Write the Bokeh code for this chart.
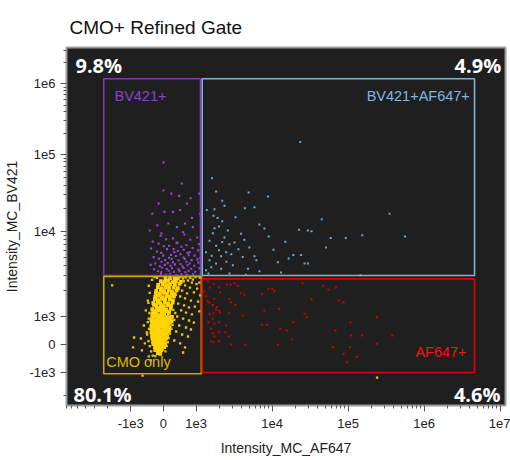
import numpy as np
from bokeh.plotting import figure
from bokeh.models import FixedTicker, CustomJSTickFormatter, Label
from bokeh.embed import file_html
from bokeh.resources import INLINE

# ---------------- data (raw intensities) ----------------
title_text = "CMO+ Refined Gate"
x_tick_vals = [-1e3, 0, 1e3, 1e4, 1e5, 1e6, 1e7]
x_tick_labels = ["-1e3", "0", "1e3", "1e4", "1e5", "1e6", "1e7"]
y_tick_vals = [-1e3, 0, 1e3, 1e4, 1e5, 1e6]
y_tick_labels = ["-1e3", "0", "1e3", "1e4", "1e5", "1e6"]

gate_names = ["BV421+", "BV421+AF647+", "CMO only", "AF647+"]
gate_x0 = [-2.27e3, 1.2e3, -2.27e3, 1.2e3]
gate_x1 = [1.14e3, 4.6e6, 1.17e3, 4.6e6]
gate_y0 = [3.04e3, 3.04e3, -1.04e3, -1.0e3]
gate_y1 = [1.18e6, 1.18e6, 2.95e3, 2.77e3]
gate_pct = ["9.8%", "4.9%", "80.1%", "4.6%"]

# CMO only: dense core
yellow_core_x = [60, 200, 340, 440,
                 -80, 40, 140, 280, 380, 530,
                 -160, -20, 100, 200, 350, 490,
                 -170, -50, 70, 170, 310, 440,
                 -220, -80, 20, 160, 260, 400,
                 -230, -110, 10, 110, 250, 350,
                 -250, -140, -20, 100, 200, 320,
                 -260, -160, -50, 50, 190, 290,
                 -310, -170, -100, 40, 140, 280,
                 -290, -220, -80, 10, 130, 230,
                 -340, -200, -130, -20, 80, 220,
                 -320, -250, -140, -40, 70, 170,
                 -340, -230, -160, -50, 20, 160,
                 -350, -280, -170, -100, 10, 110, 200, 260,
                 -370, -260, -190, -80, -10, 100, 180, 250,
                 -350, -280, -170, -130, -20, 50, 130, 200,
                 -370, -290, -220, -110, -70, 40, 110, 190,
                 -350, -310, -200, -160, -50, 20, 100, 170,
                 -370, -290, -250, -140, -100, 10, 80, 150,
                 -350, -310, -230, -190, -80, -40, 30, 110,
                 -340, -260, -220, -110, -70, 0, 80,
                 -320, -280, -170, -130, -20, 40,
                 -310, -230, -160, -80, -10, 50,
                 -260, -220, -110, -40, 20,
                 -250, -140, -70,
                 -170, -100]
yellow_core_y = [2780, 2830, 2760, 2820,
                 2600, 2550, 2620, 2540, 2610, 2560,
                 2360, 2410, 2340, 2400, 2350, 2420,
                 2220, 2160, 2210, 2170, 2200, 2150,
                 2000, 2050, 1990, 2040, 1980, 2030,
                 1890, 1840, 1900, 1850, 1880, 1830,
                 1700, 1750, 1690, 1740, 1710, 1730,
                 1600, 1560, 1610, 1570, 1590, 1550,
                 1450, 1480, 1440, 1470, 1430, 1460,
                 1370, 1330, 1360, 1320, 1360, 1340,
                 1220, 1260, 1230, 1250, 1210, 1240,
                 1160, 1130, 1170, 1140, 1160, 1130,
                 1050, 1080, 1040, 1070, 1050, 1080,
                 940, 985, 950, 975, 945, 980, 955, 990,
                 870, 840, 865, 850, 875, 845, 880, 835,
                 735, 765, 740, 770, 745, 760, 730, 775,
                 655, 625, 650, 630, 660, 635, 645, 620,
                 520, 550, 525, 545, 515, 540, 555, 510,
                 440, 415, 435, 420, 445, 425, 410, 450,
                 305, 335, 315, 330, 310, 325, 340, 300,
                 225, 200, 220, 205, 230, 195, 215,
                 95, 120, 100, 115, 90, 125,
                 10, -15, 5, -10, 20, -5,
                 -95, -120, -100, -115, -90,
                 -200, -225, -210,
                 -310, -335]
# CMO only: looser cloud around the core
yellow_x = [600, 750, 900, 1100, 660, 810, 1030, 570, 720, 930, 1130, 510, 660, 840, 1060, 450, 630,
            780, 960, 540, 690, 870, 1100, 420, 600, 780, 930, 480, 690, 840, 390, 570, 750, 330,
            510, 660, 600, -480, -540, -450, -600, -510, -690, -570, -900, -930, -660, -450, -390,
            -1760, -640, 2.4e5,
            300, 360, 250, 330, 200, 280, 150, 240, 120, 200, 90, 160, 60, 130, 30, 100, -20, 60,
            -450, -420, -460, -430, -480, -440, -500, -460, -420, -380, -330, -250,
            -280, -200, 520, 680, 820, 980, 1120, -350, 620, 870, 1010]
yellow_y = [2800, 2650, 2720, 2510, 2320, 2190, 2130, 2020, 1870, 1920, 1770, 1720, 1630, 1540,
            1500, 1420, 1350, 1280, 1310, 1180, 1110, 1060, 1150, 1000, 928, 857, 785, 678, 607,
            536, 464, 357, 286, 143, 36, -107, -286, 1540, 1180, 928, 678, 428, 214, 36, 250, -107,
            -214, -428, -571, 2320, -1100, -1170,
            1200, 1100, 950, 880, 780, 700, 620, 560, 480, 390, 300, 230, 150, 80, -30, -60, -180, -250,
            2300, 1900, 1450, 1100, 800, 560, 350, 120, -60, -250, -400, -420,
            2900, 2850, 2900, 2880, 2850, 2900, 2870, 2700, 2600, 2500, 2400]

# BV421+
purple_x = [-90, 290, 640, 1030,
            -330, 80, 430, 820,
            -150, 170, 400, 700, 1100,
            -380, 10, 310, 550, 890,
            -200, 110, 440, 620, 800, 1060,
            -70, 230, 330, 520, 740, 950,
            -300, -10, 170, 380, 610, 770, 1130,
            -140, 50, 250, 460, 650, 860, 1040,
            -250, -60, 130, 290, 520, 700, 800, 1070,
            -390, -110, 40, 220, 350, 580, 740, 940,
            -290, -40, 100, 260, 460, 620, 850, 1100,
            -170, -70, 160, 320, 490, 670, 770, 970,
            -80, 70, 200, 400, 550, 710, 910,
            560, 0, 240, 480, 830, 1100, -150, 720, -340, 30, 290, 510, 870, 1130, -420, -190,
            150, 410, 660, 900, 0, -60, 600]
purple_y = [8.9e3, 8.3e3, 9.2e3, 8.5e3,
            7.6e3, 8.1e3, 7.4e3, 8.0e3,
            7.2e3, 6.8e3, 7.3e3, 6.9e3, 7.1e3,
            6.3e3, 6.7e3, 6.2e3, 6.6e3, 6.4e3,
            5.8e3, 6.2e3, 5.9e3, 6.1e3, 5.7e3, 6.0e3,
            5.6e3, 5.3e3, 5.7e3, 5.4e3, 5.6e3, 5.2e3,
            5.0e3, 5.2e3, 4.9e3, 5.15e3, 4.95e3, 5.25e3, 4.9e3,
            4.8e3, 4.6e3, 4.75e3, 4.55e3, 4.8e3, 4.6e3, 4.7e3,
            4.2e3, 4.4e3, 4.25e3, 4.35e3, 4.15e3, 4.4e3, 4.2e3, 4.3e3,
            4.05e3, 3.9e3, 4.05e3, 3.95e3, 4.1e3, 3.9e3, 4.0e3, 3.95e3,
            3.6e3, 3.75e3, 3.62e3, 3.7e3, 3.6e3, 3.72e3, 3.64e3, 3.7e3,
            3.4e3, 3.3e3, 3.45e3, 3.35e3, 3.42e3, 3.32e3, 3.44e3, 3.36e3,
            3.15e3, 3.1e3, 3.18e3, 3.08e3, 3.14e3, 3.1e3, 3.16e3,
            4.2e4, 3.4e4, 3.1e4, 2.9e4, 2.7e4, 3.1e4, 2.3e4, 2.3e4, 1.7e4, 1.8e4, 1.8e4, 1.9e4,
            1.5e4, 1.7e4, 1.03e4, 1.2e4, 1.27e4, 1.14e4, 1.27e4, 1.14e4, 7.9e4, 9.5e3, 9.8e3]

blue_x = [2.34e4, 1.62e3, 1.83e3, 4.9e3, 8.8e3, 2.2e3, 2.36e3, 1.38e3, 1.74e3, 4.37e3, 5.85e3,
          3.29e3, 1.69e3, 1.91e3, 2.2e3, 4.5e4, 6.8e3, 7.9e3, 1.74e3, 2.0e3, 2.61e3, 2.25e4,
          2.95e4, 3.3e4, 5.9e4, 3.9e3, 4.3e3, 3.19e3, 9.0e3, 1.49e4, 5.0e3, 1.04e4, 5.1e4, 1.5e3,
          1.66e3, 2.36e3, 2.74e3, 1.83e3, 2.0e3, 1.35e3, 2.48e3, 2.13e3, 4.1e3, 5.85e3, 6.2e3,
          1.9e4, 2.4e4, 1.65e4, 1.19e4, 2.67e4, 2.95e4, 1.5e3, 1.83e3, 3.04e3, 1.58e3, 2.13e3,
          4.8e3, 6.8e3, 1.31e4, 1.35e3, 2.74e3, 4.5e3, 3.5e5, 9.3e4, 1.53e5, 5.6e5, 1.45e5,
          1.45e3, 2.5e3, 3.6e3, 2.9e3, 1.6e3, 2.2e3]
blue_y = [1.5e5, 4.9e4, 3.3e4, 3.2e4, 2.85e4, 2.5e4, 2.16e4, 1.9e4, 1.95e4, 2.0e4, 2.07e4, 1.53e4,
          1.6e4, 1.5e4, 1.36e4, 1.44e4, 1.23e4, 1.09e4, 1.1e4, 1.16e4, 1.03e4, 1.05e4, 1.03e4,
          1.01e4, 8.4e3, 9.4e3, 8.0e3, 7.4e3, 8.7e3, 7.55e3, 6.5e3, 6.1e3, 6.5e3, 7.8e3, 9.5e3,
          8.5e3, 7.1e3, 6.8e3, 6.0e3, 5.7e3, 5.7e3, 5.1e3, 5.0e3, 5.1e3, 4.6e3, 5.3e3, 5.3e3,
          4.8e3, 4.35e3, 4.2e3, 4.2e3, 4.6e3, 4.2e3, 4.0e3, 3.8e3, 3.65e3, 3.65e3, 3.4e3, 3.3e3,
          3.5e3, 3.2e3, 3.1e3, 1.7e4, 8.4e3, 9.0e3, 8.7e3, 3.05e3, 3.2e3, 4.4e3, 6.2e3, 5.4e3,
          5.2e3, 7.5e3]

red_x = [1.45e3, 1.69e3, 1.5e3, 2.0e3, 2.07e3, 2.53e3, 2.83e3, 3.19e3, 3.57e3, 3.9e3, 4.3e3,
         7.4e3, 9.0e3, 1.0e4, 1.07e4, 2.5e4, 4.7e4, 5.5e4, 6.9e4, 1.26e3, 1.35e3, 1.42e3, 1.5e3,
         1.74e3, 2.74e3, 2.89e3, 3.29e3, 3.3e4, 7.5e4, 8.7e4, 1.87e3, 1.66e3, 2.0e3, 1.83e3,
         7.9e3, 1.23e4, 1.5e3, 1.69e3, 2.07e3, 2.69e3, 4.1e3, 1.66e3, 1.74e3, 2.0e3, 1.45e3,
         2.48e3, 7.4e3, 8.5e3, 1.9e4, 2.67e4, 2.86e4, 1.58e3, 1.66e3, 2.0e3, 2.43e3, 1.28e4,
         1.56e4, 6.8e4, 1.74e3, 2.69e3, 1.58e3, 1.69e3, 1.99e3, 1.84e4, 2.89e3, 4.45e3, 1.19e4,
         6.3e4, 8.7e4, 2.4e5, 1.07e5, 1.09e5, 1.53e5, 3.8e5, 2.4e5, 1.06e5, 1.3e5, 9.6e4]
red_y = [2.58e3, 2.42e3, 2.2e3, 2.2e3, 1.93e3, 2.36e3, 2.36e3, 2.46e3, 2.3e3, 1.9e3, 1.8e3,
         1.85e3, 2.12e3, 2.12e3, 1.98e3, 2.46e3, 2.3e3, 2.06e3, 2.2e3, 1.98e3, 1.73e3, 1.51e3,
         1.45e3, 1.62e3, 1.62e3, 1.47e3, 1.37e3, 1.6e3, 1.54e3, 1.47e3, 1.29e3, 1.37e3, 1.18e3,
         1.2e3, 1.18e3, 1.23e3, 1.08e3, 1.09e3, 1.12e3, 1.09e3, 1.03e3, 917, 739, 796, 796, 678,
         703, 703, 796, 1.08e3, 975, 560, 403, 439, 439, 560, 500, 500, 286, 286, 118, 82, 118,
         178, 0, -11, -11, -96, -332, 975, 785, 321, 321, 321, 25, -96, -439, -632]

# ---------------- biexponential-like display scale ----------------
X_LIN = 0.43                      # display units per 1e3 in the linear zone
Y_LOG = [3, 4, 5, 6, 7]
Y_POS = [0.368, 1.487, 2.5, 3.43, 4.36]


def tx(v):
    v = np.asarray(v, dtype=float)
    a = np.abs(v)
    lg = np.sign(v) * (X_LIN + np.log10(np.maximum(a, 1e3) / 1e3))
    return np.where(a <= 1e3, v / 1e3 * X_LIN, lg)


def ty(v):
    v = np.asarray(v, dtype=float)
    a = np.abs(v)
    lin = v / 1e3 * Y_POS[0]
    pos = np.interp(np.log10(np.maximum(a, 1e3)), Y_LOG, Y_POS)
    neg = -(Y_POS[0] + np.log10(np.maximum(a, 1e3) / 1e3))
    return np.where(a <= 1e3, lin, np.where(v > 0, pos, neg))


X0, X1 = -1.276, 4.50
Y0, Y1 = -0.803, 3.908

p = figure(frame_width=439, frame_height=358, x_range=(X0, X1), y_range=(Y0, Y1),
           output_backend="svg", toolbar_location=None,
           min_border_left=66, min_border_right=5, min_border_top=47, min_border_bottom=55)
FONT = "Liberation Sans"
p.title.text = title_text
p.title.text_font = FONT
p.title.text_font_size = "19px"
p.title.text_font_style = "normal"
p.title.text_color = "#111111"
p.title.offset = 3
p.title.standoff = 19

p.background_fill_color = "#1f1f1f"
p.border_fill_color = "white"
p.outline_line_color = "#9c9c9c"
p.outline_line_width = 2
p.xgrid.grid_line_color = None
p.ygrid.grid_line_color = None

# ticks
xminor = [-m * 1e3 for m in range(2, 8)] + [m * d for d in (1e3, 1e4, 1e5, 1e6) for m in range(2, 10)]
yminor = [-2e3] + [m * d for d in (1e3, 1e4, 1e5, 1e6) for m in range(2, 10)]
yminor = [v for v in yminor if ty(v) < Y1]
p.xaxis.ticker = FixedTicker(ticks=list(tx(x_tick_vals)), minor_ticks=list(tx(xminor)))
p.yaxis.ticker = FixedTicker(ticks=list(ty(y_tick_vals)), minor_ticks=list(ty(yminor)))
code = """
let best = -1, bd = 1e9;
for (let i = 0; i < vals.length; i++) { const d = Math.abs(vals[i] - tick); if (d < bd) { bd = d; best = i; } }
return bd < 1e-6 ? labels[best] : '';
"""
p.xaxis.formatter = CustomJSTickFormatter(args=dict(vals=list(tx(x_tick_vals)), labels=x_tick_labels), code=code)
p.yaxis.formatter = CustomJSTickFormatter(args=dict(vals=list(ty(y_tick_vals)), labels=y_tick_labels), code=code)

for ax in (p.xaxis, p.yaxis):
    ax.axis_line_color = None
    ax.major_tick_line_color = "#555555"
    ax.minor_tick_line_color = "#555555"
    ax.major_tick_out = 6
    ax.major_tick_in = 0
    ax.minor_tick_out = 3
    ax.minor_tick_in = 0
    ax.major_label_text_font = FONT
    ax.major_label_text_font_size = "13px"
    ax.major_label_text_color = "#222222"
    ax.axis_label_text_font = FONT
    ax.axis_label_text_font_size = "14px"
    ax.axis_label_text_font_style = "normal"
    ax.axis_label_text_color = "#222222"
p.xaxis.axis_label = "Intensity_MC_AF647"
p.yaxis.axis_label = "Intensity_MC_BV421"
p.xaxis.major_label_standoff = 7
p.xaxis.axis_label_standoff = 9
p.yaxis.major_label_standoff = 5
p.yaxis.axis_label_standoff = 6

# points
p.scatter(tx(yellow_core_x), ty(yellow_core_y), marker="square", size=3.8, fill_color="#ffd400", line_color=None)
p.scatter(tx(yellow_x), ty(yellow_y), marker="square", size=2.3, fill_color="#f2c900", line_color=None)
p.scatter(tx(purple_x), ty(purple_y), marker="square", size=2.1, fill_color="#9a45d6", line_color=None)
p.scatter(tx(blue_x), ty(blue_y), marker="square", size=2.0, fill_color="#6fa6cc", line_color=None)
p.scatter(tx(red_x), ty(red_y), marker="square", size=2.0, fill_color="#d00000", line_color=None)

# gates
gate_line = ["#8a35b8", "#7fb2da", "#c9a800", "#e00000"]
p.quad(left=tx(gate_x0), right=tx(gate_x1), bottom=ty(gate_y0), top=ty(gate_y1),
       fill_color=None, line_color=gate_line, line_width=1.6)

gx = tx(gate_x0); gx1 = tx(gate_x1); gy0 = ty(gate_y0); gy1 = ty(gate_y1)
common = dict(text_font=FONT, text_font_size="14.5px", text_baseline="middle")
p.add_layout(Label(x=gx[0] + 0.141, y=gy1[0] - 0.233, text=gate_names[0], text_color="#9040c8", **common))
p.add_layout(Label(x=gx1[1] - 0.062, y=gy1[1] - 0.233, text=gate_names[1], text_color="#80b6e0",
                   text_align="right", **common))
p.add_layout(Label(x=gx[2] + 0.032, y=gy0[2] + 0.158, text=gate_names[2], text_color="#dcbc00", **common))
p.add_layout(Label(x=gx1[3] - 0.105, y=gy0[3] + 0.267, text=gate_names[3], text_color="#ff1010",
                   text_align="right", **common))

pc = dict(text_font="Open Sans", text_font_size="20px", text_font_style="bold", text_color="white",
          text_baseline="middle")
p.add_layout(Label(x=X0 + 0.118, y=Y1 - 0.243, text=gate_pct[0], **pc))
p.add_layout(Label(x=X1 - 0.057, y=Y1 - 0.243, text=gate_pct[1], text_align="right", **pc))
p.add_layout(Label(x=X0 + 0.092, y=Y0 + 0.145, text=gate_pct[2], **pc))
p.add_layout(Label(x=X1 - 0.066, y=Y0 + 0.145, text=gate_pct[3], text_align="right", **pc))

open("out.html", "w").write(file_html(p, INLINE))
